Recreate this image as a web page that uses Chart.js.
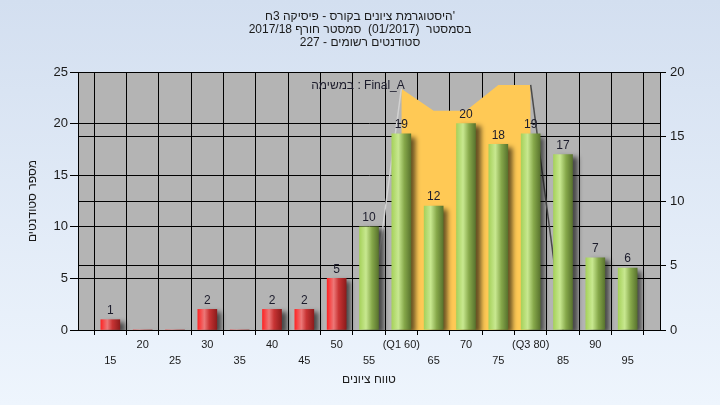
<!DOCTYPE html>
<html>
<head>
<meta charset="utf-8">
<script src="https://cdn.jsdelivr.net/npm/chart.js@4/dist/chart.umd.min.js"></script>
<style>
  html, body { margin: 0; padding: 0; }
  body { width: 720px; height: 405px; overflow: hidden; }
  #c { display: block; background: linear-gradient(to bottom, #d3dff0, #eef5fd); }
</style>
</head>
<body>
<canvas id="c" width="720" height="405"></canvas>
<script>
// grades histogram - bins of 5 points
const scores = [15, 20, 25, 30, 35, 40, 45, 50, 55, 60, 65, 70, 75, 80, 85, 90, 95];
const counts = [1, 0, 0, 2, 0, 2, 2, 5, 10, 19, 12, 20, 18, 19, 17, 7, 6];
const passScore = 55;

// the yellow band between the quartiles (right axis)
const bandScores = [55, 60, 65, 70, 75, 80, 85];
const bandValues = [0, 18.7, 17, 17, 19, 19, 0];

const quartileScores = [60, 80];
const quartileNames = ['Q1', 'Q3'];

const titleLines = [
  "\u200F'היסטוגרמת ציונים בקורס - פיסיקה 3ח",
  'בסמסטר  (01/2017)  סמסטר חורף 2017/18',
  'סטודנטים רשומים - 227'
];
const xTitle = 'טווח ציונים';
const yTitle = 'מספר סטודנטים';
const seriesName = 'במשימה : Final_A';

Chart.defaults.font.family = "'Liberation Sans', 'DejaVu Sans', sans-serif";
Chart.defaults.color = '#1a1a1a';

function barFill(c) {
  const xs = c.chart.scales.x;
  const red = c.raw && c.raw.x < passScore;
  const flat = red ? '#e02020' : '#9cc850';
  if (!xs || !c.raw) return flat;
  const px = xs.getPixelForValue(c.raw.x);
  if (!Number.isFinite(px)) return flat;
  const g = c.chart.ctx.createLinearGradient(px - 10, 0, px + 10, 0);
  if (red) {
    g.addColorStop(0, '#ff2020');
    g.addColorStop(0.35, '#ec7878');
    g.addColorStop(0.6, '#c83434');
    g.addColorStop(1, '#8a1a1a');
  } else {
    g.addColorStop(0, '#a4d058');
    g.addColorStop(0.35, '#c8e890');
    g.addColorStop(0.65, '#86a84a');
    g.addColorStop(1, '#56702c');
  }
  return g;
}

const plotBg = {
  id: 'plotBg',
  beforeDraw(chart) {
    const {ctx, chartArea: a} = chart;
    ctx.save();
    ctx.fillStyle = '#b4b4b4';
    ctx.fillRect(a.left, a.top, a.right - a.left, a.bottom - a.top);
    ctx.restore();
  }
};

const barShadow = {
  id: 'barShadow',
  beforeDatasetDraw(chart, args) {
    if (args.index !== 0) return;
    const ctx = chart.ctx;
    ctx.save();
    ctx.shadowColor = 'rgba(0,0,0,0.6)';
    ctx.shadowBlur = 5;
    ctx.shadowOffsetX = 5;
    ctx.shadowOffsetY = 3;
  },
  afterDatasetDraw(chart, args) {
    if (args.index !== 0) return;
    chart.ctx.restore();
  }
};

const valueLabels = {
  id: 'valueLabels',
  afterDatasetsDraw(chart) {
    const ctx = chart.ctx;
    const a = chart.chartArea;
    ctx.save();
    ctx.font = "12px 'Liberation Sans', 'DejaVu Sans', sans-serif";
    ctx.fillStyle = '#1c1c2c';
    ctx.textAlign = 'center';
    ctx.textBaseline = 'bottom';
    chart.getDatasetMeta(0).data.forEach((el, i) => {
      if (!counts[i]) return;
      ctx.fillText(String(counts[i]), el.x, el.y - 3);
    });
    // series name inside the plot
    ctx.textBaseline = 'middle';
    ctx.fillText(seriesName, a.left + 280, a.top + 14);
    ctx.restore();
  }
};

function xLabel(v) {
  if (v <= 10 || v >= 100) return '';
  const q = quartileScores.indexOf(v);
  const txt = q >= 0 ? '(' + quartileNames[q] + ' ' + v + ')' : String(v);
  return v % 10 === 0 ? [txt] : ['', txt];
}

new Chart(document.getElementById('c'), {
  type: 'bar',
  data: {
    datasets: [
      {
        label: 'counts',
        data: scores.map((s, i) => ({x: s, y: counts[i]})),
        backgroundColor: barFill,
        borderWidth: 0,
        barThickness: 19,
        order: 1,
        yAxisID: 'y'
      },
      {
        type: 'line',
        label: 'band',
        data: bandScores.map((s, i) => ({x: s, y: bandValues[i]})),
        yAxisID: 'y2',
        fill: 'origin',
        pointRadius: 0,
        borderWidth: 1.5,
        tension: 0,
        order: 2,
        segment: {
          borderColor: c => c.p0DataIndex === 0 ? '#d2d2d2' : (c.p1DataIndex === bandScores.length - 1 ? '#4a4a4a' : 'rgba(0,0,0,0)'),
          backgroundColor: c => (c.p0DataIndex === 0 || c.p1DataIndex === bandScores.length - 1) ? 'rgba(0,0,0,0)' : '#ffc955'
        }
      }
    ]
  },
  options: {
    responsive: false,
    animation: false,
    layout: { padding: 0 },
    plugins: {
      legend: { display: false },
      tooltip: { enabled: false },
      title: {
        display: true,
        text: titleLines,
        color: '#1a1a1a',
        font: { size: 12, weight: 'normal', lineHeight: '13px' },
        padding: { top: 10, bottom: 23 }
      }
    },
    scales: {
      x: {
        type: 'linear',
        min: 10,
        max: 100,
        offset: false,
        afterFit: s => { s.height = 75; },
        ticks: {
          stepSize: 5,
          autoSkip: false,
          maxRotation: 0,
          padding: 2,
          font: { size: 11, lineHeight: 1.45 },
          color: '#1a1a1a',
          callback: xLabel
        },
        grid: { color: '#000', lineWidth: 1, tickLength: 5 },
        border: { color: '#000' },
        title: {
          display: true,
          text: xTitle,
          font: { size: 12 },
          color: '#1a1a1a',
          padding: { top: 0, bottom: 18 }
        }
      },
      y: {
        position: 'left',
        min: 0,
        max: 25,
        afterFit: s => { s.width = 78; },
        ticks: { stepSize: 5, padding: 2, font: { size: 13 }, color: '#1a1a1a' },
        grid: { color: '#000', lineWidth: 1, tickLength: 8 },
        border: { color: '#000' },
        title: {
          display: true,
          text: yTitle,
          font: { size: 12 },
          color: '#1a1a1a',
          padding: { top: 25, bottom: 0 }
        }
      },
      y2: {
        position: 'right',
        min: 0,
        max: 20,
        afterFit: s => { s.width = 60; },
        ticks: { stepSize: 5, padding: 4, font: { size: 13 }, color: '#1a1a1a' },
        grid: { color: '#000', lineWidth: 1, tickLength: 6 },
        border: { color: '#000' }
      }
    }
  },
  plugins: [plotBg, barShadow, valueLabels]
});
</script>
</body>
</html>
